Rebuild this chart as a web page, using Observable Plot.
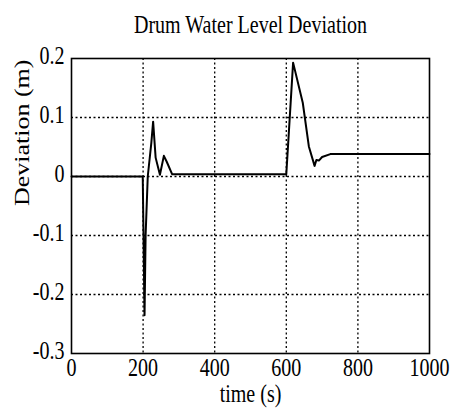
<!DOCTYPE html>
<html><head>
<meta charset="utf-8">
<script src="https://cdn.jsdelivr.net/npm/d3@7"></script>
<script src="https://cdn.jsdelivr.net/npm/@observablehq/plot@0.6"></script>
<style>body{margin:0;background:#fff}</style>
</head><body><div id="chart"></div>
<script>
const time =      [0, 199, 204,    207,  213,  223,   228,   235,   247,   258,   266,   281,   600,   619,   646,   663,   679,   684,   691,   700,   723,   1000];
const deviation = [0, 0,   -0.235, -0.1, 0.0,  0.057, 0.093, 0.032, 0.003, 0.035, 0.025, 0.004, 0.004, 0.193, 0.125, 0.051, 0.018, 0.028, 0.027, 0.033, 0.038, 0.038];
const xTicks = [0, 200, 400, 600, 800, 1000];
const yTicks = [0.2, 0.1, 0, -0.1, -0.2, -0.3];
const xGrid = [200, 400, 600, 800];
const yGrid = [0.1, 0, -0.1, -0.2];
const title = "Drum Water Level Deviation";
const xLabel = "time (s)";
const yLabel = "Deviation (m)";

const data = time.map((t, i) => ({t, v: deviation[i]}));
const FS = 26;

const chart = Plot.plot({
  width: 450, height: 412,
  marginTop: 58, marginBottom: 59, marginLeft: 71, marginRight: 21,
  style: {fontFamily: "'Liberation Serif', 'Times New Roman', serif", fontSize: FS + "px", background: "#fff", color: "#000"},
  x: {domain: [0, 1000], axis: null},
  y: {domain: [-0.3, 0.2], axis: null},
  marks: [
    Plot.ruleX(xGrid, {stroke: "#000", strokeWidth: 1.3, strokeDasharray: "2,2.5"}),
    Plot.ruleY(yGrid, {stroke: "#000", strokeWidth: 1.3, strokeDasharray: "2,2.5"}),
    Plot.frame({stroke: "#000", strokeWidth: 1.6}),
    Plot.line(data, {x: "t", y: "v", stroke: "#000", strokeWidth: 2}),
    Plot.text(xTicks, {x: d => d, text: d => String(d), frameAnchor: "bottom", lineAnchor: "top", dy: 4, fontSize: FS, fill: "#000"}),
    Plot.text(yTicks, {y: d => d, text: d => String(d), frameAnchor: "left", textAnchor: "end", dx: -7, dy: -3, fontSize: FS, fill: "#000"}),
    Plot.text([title], {frameAnchor: "top", lineAnchor: "bottom", dy: -26, fontSize: FS, text: d => d, fill: "#000"}),
    Plot.text([xLabel], {frameAnchor: "bottom", lineAnchor: "bottom", dy: 48, fontSize: FS, text: d => d, fill: "#000"}),
    Plot.text([yLabel], {frameAnchor: "left", dx: -46, rotate: -90, fontSize: FS, text: d => d, fill: "#000"})
  ]
});
document.getElementById("chart").appendChild(chart);

// the reference glyphs are horizontally condensed: squeeze each text around its anchor
const SX = 0.77;
chart.querySelectorAll("text").forEach(t => {
  const r = t.getBoundingClientRect();
  const anchor = getComputedStyle(t).textAnchor;
  const sx = anchor === "end" ? r.right : anchor === "start" ? r.left : (r.left + r.right) / 2;
  const p = t.parentNode.getScreenCTM();
  const ax = (sx - p.e) / p.a;
  const g = document.createElementNS("http://www.w3.org/2000/svg", "g");
  g.setAttribute("transform", `translate(${ax},0) scale(${SX},1) translate(${-ax},0)`);
  t.parentNode.insertBefore(g, t);
  g.appendChild(t);
});
</script>
</body></html>
